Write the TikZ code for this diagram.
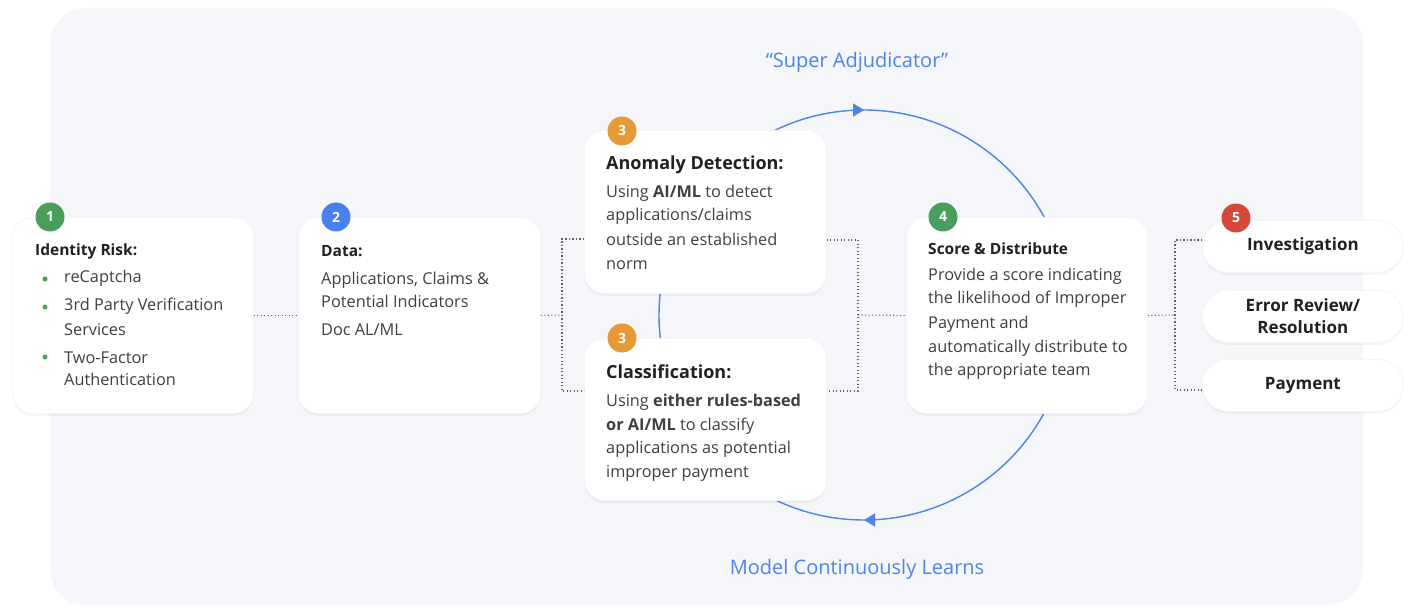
\documentclass[tikz,border=0pt]{standalone}
\usepackage{fontspec}
\setmainfont{Open Sans}
\usetikzlibrary{decorations.markings,arrows.meta}
\definecolor{panelc}{HTML}{F4F6F9}
\definecolor{titlec}{HTML}{202124}
\definecolor{bodyc}{HTML}{3C4043}
\definecolor{bluel}{HTML}{4F83E6}
\definecolor{dotc}{HTML}{5F6368}
\definecolor{bgreen}{HTML}{4A9E5C}
\definecolor{bblue}{HTML}{4A80EB}
\definecolor{borange}{HTML}{E69A35}
\definecolor{bred}{HTML}{D6483A}
\begin{document}
\begin{tikzpicture}[x=1pt,y=-1pt,
  card/.style={fill=white, rounded corners=20, draw=black!4, line width=0.8,
    preaction={fill=black, fill opacity=0.04, draw=none, transform canvas={yshift=-2.5pt}}},
  pill/.style={card, rounded corners=26, minimum width=201, minimum height=52, anchor=north west,
    text=titlec, align=center, font=\fontsize{17}{22}\selectfont\bfseries},
  badge/.style={circle, minimum size=29, inner sep=0, text=white, font=\fontsize{14}{14}\selectfont\bfseries},
  txt/.style={anchor=base west, inner sep=0, text=bodyc, font=\fontsize{16.3}{18}\selectfont},
  ttl/.style={anchor=base west, inner sep=0, text=titlec, font=\fontsize{15.5}{18}\selectfont\bfseries},
  bigttl/.style={anchor=base west, inner sep=0, text=titlec, font=\fontsize{18}{20}\selectfont\bfseries},
  dotline/.style={dotc, line width=1.1, dash pattern=on 1.1pt off 2.4pt},
  bul/.style={circle, fill=bgreen, inner sep=0, minimum size=5},
  bluelabel/.style={text=bluel, inner sep=0, font=\fontsize{20}{22}\selectfont},
  cyclepath/.style={draw=bluel, line width=1.4, postaction={decorate},
    decoration={markings,
      mark=at position 0.25 with {\arrow{Triangle[length=11pt,width=13pt]}},
      mark=at position 0.75 with {\arrow{Triangle[length=11pt,width=13pt]}}}}
]
\useasboundingbox (0,0) rectangle (1412,609);
\fill[white] (0,0) rectangle (1412,609);
\fill[panelc, rounded corners=36] (50,8) rectangle (1363,605);

% feedback loop
\coordinate (cc) at (864,315);
\draw[cyclepath] (cc) ++(205,0) arc[start angle=0, end angle=360, radius=205];

% cards
\node[card, minimum width=241, minimum height=196, anchor=north west] (b1) at (12,217) {};
\node[card, minimum width=242, minimum height=196, anchor=north west] (b2) at (298,217) {};
\node[card, minimum width=242, minimum height=163, anchor=north west] (b3a) at (584,130) {};
\node[card, minimum width=242, minimum height=162, anchor=north west] (b3b) at (584,338) {};
\node[card, minimum width=241, minimum height=196, anchor=north west] (b4) at (906,217) {};
\node[pill] (p1) at (1202,220) {Investigation};
\node[pill] (p2) at (1202,290) {Error Review/\\Resolution};
\node[pill] (p3) at (1202,359) {Payment};

% connectors
\coordinate (jL) at (562,315);
\coordinate (jLt) at (562,239);
\coordinate (jLb) at (562,391);
\coordinate (jR) at (858,315);
\coordinate (jRt) at (858,240);
\coordinate (jRb) at (858,391);
\coordinate (jP) at (1175,315);
\coordinate (jPt) at (1175,240);
\coordinate (jPb) at (1175,390);
\draw[dotline] (b1.east) -- (b2.west);
\draw[dotline] (b2.east) -- (jL);
\draw[dotline] (jLt -| b3a.west) -- (jLt) -- (jLb) -- (jLb -| b3b.west);
\draw[dotline] (jRt -| b3a.east) -- (jRt) -- (jRb) -- (jRb -| b3b.east);
\draw[dotline] (jR) -- (b4.west);
\draw[dotline] (b4.east) -- (jP);
\draw[dotline] (jPt -| p1.west) -- (jPt) -- (jPb) -- (jPb -| p3.west);

% badges
\node[badge, fill=bgreen] (n1) at (50,217) {1};
\node[badge, fill=bblue] (n2) at (336,217) {2};
\node[badge, fill=borange] (n3a) at (622,131) {3};
\node[badge, fill=borange] (n3b) at (622,338) {3};
\node[badge, fill=bgreen] (n4) at (943,217) {4};
\node[badge, fill=bred] (n5) at (1236,218) {5};

% box 1
\node[ttl] (t1) at (35,256) {Identity Risk:};
\node[bul] (d1) at (45,279) {};
\node[bul] (d2) at (45,307) {};
\node[bul] (d3) at (45,357) {};
\node[txt] (t1a) at (64,283) {reCaptcha};
\node[txt] (t1b) at (64,311) {3rd Party Verification};
\node[txt] (t1c) at (64,335) {Services};
\node[txt] (t1d) at (64,363) {Two-Factor};
\node[txt] (t1e) at (64,385) {Authentication};

% box 2
\node[ttl] (t2) at (321,257) {Data:};
\node[txt] (t2a) at (321,285) {Applications, Claims \&};
\node[txt] (t2b) at (321,308) {Potential Indicators};
\node[txt] (t2c) at (321,335) {Doc AL/ML};

% box 3a
\node[bigttl] (t3) at (606,170) {Anomaly Detection:};
\node[txt] (t3a) at (606,198) {Using \textbf{AI/ML} to detect};
\node[txt] (t3b) at (606,221) {applications/claims};
\node[txt] (t3c) at (606,246) {outside an established};
\node[txt] (t3d) at (606,270) {norm};

% box 3b
\node[bigttl] (t4) at (606,378) {Classification:};
\node[txt] (t4a) at (606,406) {Using \textbf{either rules-based}};
\node[txt] (t4b) at (606,430) {\textbf{or AI/ML} to classify};
\node[txt] (t4c) at (606,453) {applications as potential};
\node[txt] (t4d) at (606,477) {improper payment};

% box 4
\node[ttl] (t5) at (928,255) {Score \& Distribute};
\node[txt] (t5a) at (928,280) {Provide a score indicating};
\node[txt] (t5b) at (928,304) {the likelihood of Improper};
\node[txt] (t5c) at (928,328) {Payment and};
\node[txt] (t5d) at (928,352) {automatically distribute to};
\node[txt] (t5e) at (928,375) {the appropriate team};

% loop labels
\node[bluelabel] (sa) at (857,62) {“Super Adjudicator”};
\node[bluelabel] (ml) at (857,569) {Model Continuously Learns};
\end{tikzpicture}
\end{document}
